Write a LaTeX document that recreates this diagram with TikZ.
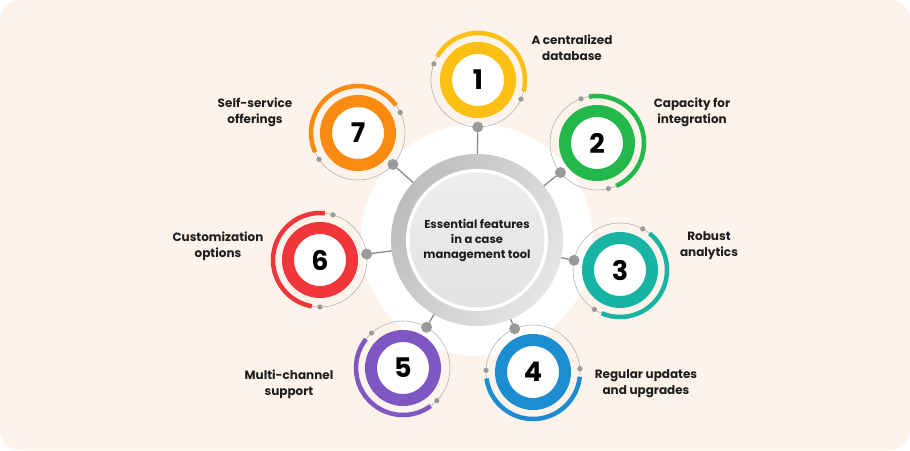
\documentclass[tikz,border=0pt]{standalone}
\usepackage{fontspec}
\setmainfont{Poppins}
\usepackage{xcolor}
\usepackage{tikz}
\usetikzlibrary{positioning,calc,shadings}
\definecolor{cream}{HTML}{FDF3EA}
\definecolor{ink}{HTML}{1E1E1E}
\definecolor{wire}{HTML}{9A9A9A}
\definecolor{hubgrey}{HTML}{E6E6E6}
\definecolor{cyellow}{HTML}{FBC012}
\definecolor{cgreen}{HTML}{22B84B}
\definecolor{cteal}{HTML}{17B3A3}
\definecolor{cblue}{HTML}{1C8DD0}
\definecolor{cpurple}{HTML}{7E57C2}
\definecolor{cred}{HTML}{F0353B}
\definecolor{corange}{HTML}{FA8B10}
\pgfdeclareradialshading{glow}{\pgfpoint{0bp}{0bp}}{color(0bp)=(white); color(32bp)=(white); color(42bp)=(white!60!cream); color(50bp)=(cream)}
\tikzset{
  sat/.style={circle, draw=#1, line width=12pt, fill=white, minimum size=64pt,
              inner sep=0pt, outer sep=0pt, font=\bfseries\fontsize{27}{27}\selectfont, text=black},
  pin/.style={circle, fill=wire, minimum size=11pt, inner sep=0pt, outer sep=0pt},
  track/.style={draw=black!30, line width=0.6pt},
  band/.style={draw=#1, line width=4.5pt},
  tipdot/.style={fill=wire},
  link/.style={draw=wire!90!black, line width=1.3pt},
  lbl/.style={font=\bfseries\fontsize{12}{16}\selectfont, align=center, text=ink}
}
\newcommand{\featring}[4]{% node, colour, start, end
  \draw[track] (#1) circle[radius=47pt];
  \draw[band=#2] ([shift={(#3:47pt)}]#1.center) arc[start angle=#3, end angle=#4, radius=47pt];
  \fill[tipdot] ([shift={(#3-10:47pt)}]#1.center) circle[radius=2.6pt];
  \fill[tipdot] ([shift={(#4+10:47pt)}]#1.center) circle[radius=2.6pt];
}

\begin{document}
\begin{tikzpicture}[x=1pt, y=1pt]
  % page
  \fill[white] (0,0) rectangle (910,450);
  \fill[cream, rounded corners=20pt] (0,0) rectangle (910,450);
  \useasboundingbox (0,0) rectangle (910,450);

  % hub
  \node[circle, minimum size=172pt, inner sep=0pt, outer sep=0pt] (hub) at (477,210) {};
  \shade[shading=glow] (hub.center) circle[radius=116pt];
  \shade[left color=black!26, right color=black!10, shading angle=60] (hub.center) circle[radius=86pt];
  \fill[white] (hub.center) circle[radius=71pt];
  \shade[top color=black!7, bottom color=black!11] (hub.center) circle[radius=67.5pt];
  \node[lbl, font=\bfseries\fontsize{11.5}{15}\selectfont] (title) at (hub.center)
    {Essential features\\in a case\\management tool};

  % features
  \node[sat=cyellow] (s1) at (478,370) {1};
  \node[sat=cgreen]  (s2) at (597,307) {2};
  \node[sat=cteal]   (s3) at (620,180) {3};
  \node[sat=cblue]   (s4) at (533,78)  {4};
  \node[sat=cpurple] (s5) at (403,82)  {5};
  \node[sat=cred]    (s6) at (320,190) {6};
  \node[sat=corange] (s7) at (358,317) {7};

  \featring{s1}{cyellow}{-14}{150}
  \featring{s2}{cgreen}{-66}{100}
  \featring{s3}{cteal}{-113}{51}
  \featring{s4}{cblue}{188}{354}
  \featring{s5}{cpurple}{142}{306}
  \featring{s6}{cred}{84}{260}
  \featring{s7}{corange}{36}{204}

  % pins to hub
  \node[pin] (p1) at ($(s1)!47pt!(hub)$) {};
  \node[pin] (p2) at ($(s2)!47pt!(hub)$) {};
  \node[pin] (p3) at ($(s3)!47pt!(hub)$) {};
  \node[pin] (p4) at ($(s4)!47pt!(hub)$) {};
  \node[pin] (p5) at ($(s5)!47pt!(hub)$) {};
  \node[pin] (p6) at ($(s6)!47pt!(hub)$) {};
  \node[pin] (p7) at ($(s7)!47pt!(hub)$) {};
  \draw[link] (p1)--(hub); \draw[link] (p2)--(hub); \draw[link] (p3)--(hub);
  \draw[link] (p4)--(hub); \draw[link] (p5)--(hub); \draw[link] (p6)--(hub);
  \draw[link] (p7)--(hub);

  % labels
  \node[lbl] (l1) at (572,402) {A centralized\\database};
  \node[lbl] (l2) at (692,338) {Capacity for\\integration};
  \node[lbl] (l3) at (709,204) {Robust\\analytics};
  \node[lbl] (l4) at (646,66)  {Regular updates\\and upgrades};
  \node[lbl] (l5) at (289,66)  {Multi-channel\\support};
  \node[lbl] (l6) at (218,204) {Customization\\options};
  \node[lbl] (l7) at (255,338) {Self-service\\offerings};
\end{tikzpicture}
\end{document}
